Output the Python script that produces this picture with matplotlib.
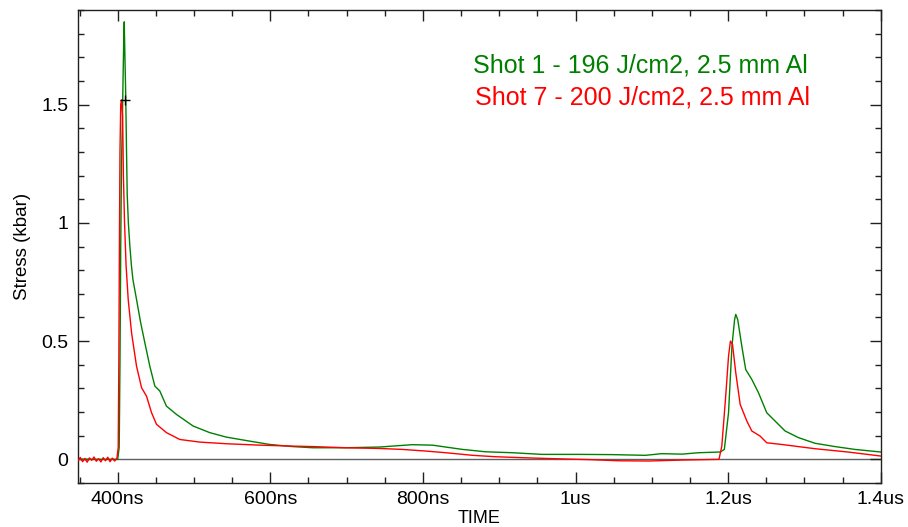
import matplotlib
matplotlib.use("Agg")
import matplotlib.pyplot as plt
from matplotlib.ticker import FixedLocator, MultipleLocator, FixedFormatter

plt.rcParams['font.family'] = ['Liberation Sans', 'DejaVu Sans']

# ---- data (time in ns, stress in kbar) ----
shot1_t = [348, 400, 402, 403, 404, 405, 406, 407, 408, 408.6, 409.5, 410.5, 411.6, 412.5,
           414, 416, 418, 420, 424.7, 430, 435.6, 442.1, 448.7, 455.2, 463.9, 477, 498.8,
           520.6, 542.4, 564, 599, 629, 655.7, 699, 743, 760, 786, 812.6, 830, 851.8, 882,
           917, 956, 1004, 1048, 1091.5, 1113, 1139.5, 1161, 1189.6, 1195, 1200.5, 1205,
           1208.4, 1210, 1212.6, 1217.9, 1223, 1231, 1239.7, 1250.6, 1261.5, 1274.6, 1292,
           1313.8, 1340, 1366, 1400]
shot1_v = [0.0, 0.0, 0.05, 0.4, 0.9, 1.25, 1.4, 1.6, 1.78, 1.85, 1.7, 1.55, 1.3, 1.12,
           1.0, 0.9, 0.82, 0.76, 0.676, 0.58, 0.493, 0.394, 0.31, 0.289, 0.225, 0.19, 0.141,
           0.113, 0.094, 0.082, 0.063, 0.054, 0.049, 0.049, 0.052, 0.056, 0.062, 0.06, 0.052,
           0.042, 0.032, 0.028, 0.021, 0.021, 0.02, 0.017, 0.024, 0.022, 0.028, 0.031, 0.042,
           0.197, 0.479, 0.59, 0.613, 0.59, 0.479, 0.38, 0.338, 0.282, 0.197, 0.162, 0.12,
           0.092, 0.068, 0.054, 0.042, 0.031]

shot7_t = [348, 351, 354, 357, 360, 363, 366, 369, 372, 375, 378, 381, 384, 387, 390, 393,
           396, 399, 400.7, 401.5, 402.2, 403, 404, 405, 406.5, 407.5, 409, 411, 413.8,
           418.2, 424.7, 431.3, 437.8, 444.4, 450.9, 463.9, 481.4, 507.5, 542.4, 586, 629,
           655.7, 699, 743, 773, 804, 830, 865, 895.5, 939, 991, 1017, 1056.7, 1096, 1139.5,
           1188, 1191.7, 1196.8, 1200.5, 1203, 1205.7, 1210, 1215.8, 1224.5, 1231, 1242,
           1250.6, 1270, 1313.8, 1357, 1400]
shot7_v = [-0.005, 0.008, -0.01, 0.004, -0.012, 0.006, -0.004, 0.01, -0.008, 0.003, -0.011,
           0.007, -0.006, 0.009, -0.01, 0.005, -0.007, 0.004, 0.05, 0.4, 0.85, 1.3, 1.5, 1.52,
           1.45, 1.2, 1.0, 0.82, 0.676, 0.535, 0.394, 0.303, 0.267, 0.197, 0.148, 0.113, 0.084,
           0.073, 0.066, 0.06, 0.056, 0.054, 0.049, 0.046, 0.042, 0.035, 0.028, 0.017, 0.011,
           0.006, 0.001, -0.001, -0.006, -0.007, -0.003, 0.0, 0.056, 0.267, 0.436, 0.5, 0.486,
           0.366, 0.232, 0.162, 0.12, 0.098, 0.07, 0.063, 0.045, 0.031, 0.014]

cursor_t = [410]
cursor_v = [1.52]

x_ticks = [400, 600, 800, 1000, 1200, 1400]
x_tick_labels = ["400ns", "600ns", "800ns", "1us", "1.2us", "1.4us"]
y_ticks = [0, 0.5, 1, 1.5]
y_tick_labels = ["0", "0.5", "1", "1.5"]

label1 = "Shot 1 - 196 J/cm2, 2.5 mm Al"
label7 = "Shot 7 - 200 J/cm2, 2.5 mm Al"

GREEN = "#008000"
RED = "#ff0000"

fig = plt.figure(figsize=(9.08, 5.27), dpi=100)
ax = fig.add_axes([0.0859, 0.0835, 0.8841, 0.8975])

ax.axhline(0, color="#606060", lw=1.0, zorder=1)
ax.plot(shot1_t, shot1_v, color=GREEN, lw=1.0, zorder=2)
ax.plot(shot7_t, shot7_v, color=RED, lw=1.0, zorder=3)
ax.plot(cursor_t, cursor_v, marker="+", color="black", ms=7, mew=1.0, ls="none", zorder=4)

ax.set_xlim(348, 1400)
ax.set_ylim(-0.1, 1.9)

ax.xaxis.set_major_locator(FixedLocator(x_ticks))
ax.xaxis.set_major_formatter(FixedFormatter(x_tick_labels))
ax.xaxis.set_minor_locator(MultipleLocator(50))
ax.yaxis.set_major_locator(FixedLocator(y_ticks))
ax.yaxis.set_major_formatter(FixedFormatter(y_tick_labels))
ax.yaxis.set_minor_locator(MultipleLocator(0.1))

ax.tick_params(which="both", direction="in", top=True, right=True, colors="#202020",
               labelcolor="black", width=1.0)
ax.tick_params(which="major", length=8, labelsize=14)
ax.tick_params(which="minor", length=4.3)
ax.tick_params(axis="x", which="major", pad=6)
ax.tick_params(axis="y", which="major", pad=7)

for s in ax.spines.values():
    s.set_color("#202020")
    s.set_linewidth(1.0)

ax.set_xlabel("TIME", fontsize=13, labelpad=1)
ax.set_ylabel("Stress (kbar)", fontsize=13.5, labelpad=7)

ax.text(0.492, 0.882, label1, color=GREEN, fontsize=18, transform=ax.transAxes,
        ha="left", va="center")
ax.text(0.494, 0.816, label7, color=RED, fontsize=18, transform=ax.transAxes,
        ha="left", va="center")

fig.savefig("out.png", dpi=100)
